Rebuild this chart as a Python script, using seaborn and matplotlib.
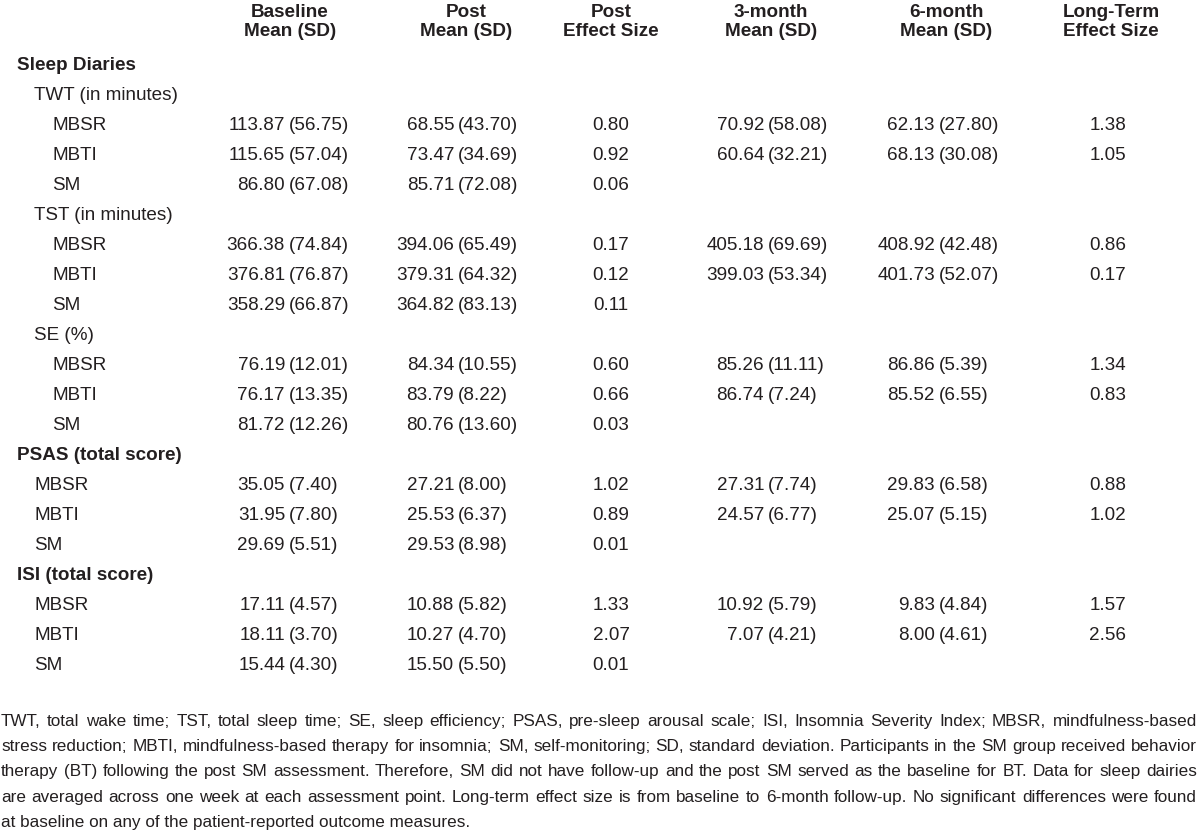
import numpy as np
import pandas as pd
import matplotlib
matplotlib.use("Agg")
import matplotlib.pyplot as plt
import seaborn as sns

# ---------- Data ----------
measures = ["TWT (in minutes)", "TST (in minutes)", "SE (%)",
            "PSAS (total score)", "ISI (total score)"]
measure_section = ["Sleep Diaries", "Sleep Diaries", "Sleep Diaries", None, None]
groups = ["MBSR", "MBTI", "SM"]

baseline_mean = [113.87, 115.65, 86.80, 366.38, 376.81, 358.29, 76.19, 76.17, 81.72,
                 35.05, 31.95, 29.69, 17.11, 18.11, 15.44]
baseline_sd = [56.75, 57.04, 67.08, 74.84, 76.87, 66.87, 12.01, 13.35, 12.26,
               7.40, 7.80, 5.51, 4.57, 3.70, 4.30]
post_mean = [68.55, 73.47, 85.71, 394.06, 379.31, 364.82, 84.34, 83.79, 80.76,
             27.21, 25.53, 29.53, 10.88, 10.27, 15.50]
post_sd = [43.70, 34.69, 72.08, 65.49, 64.32, 83.13, 10.55, 8.22, 13.60,
           8.00, 6.37, 8.98, 5.82, 4.70, 5.50]
post_es = [0.80, 0.92, 0.06, 0.17, 0.12, 0.11, 0.60, 0.66, 0.03,
           1.02, 0.89, 0.01, 1.33, 2.07, 0.01]
m3_mean = [70.92, 60.64, None, 405.18, 399.03, None, 85.26, 86.74, None,
           27.31, 24.57, None, 10.92, 7.07, None]
m3_sd = [58.08, 32.21, None, 69.69, 53.34, None, 11.11, 7.24, None,
         7.74, 6.77, None, 5.79, 4.21, None]
m6_mean = [62.13, 68.13, None, 408.92, 401.73, None, 86.86, 85.52, None,
           29.83, 25.07, None, 9.83, 8.00, None]
m6_sd = [27.80, 30.08, None, 42.48, 52.07, None, 5.39, 6.55, None,
         6.58, 5.15, None, 4.84, 4.61, None]
lt_es = [1.38, 1.05, None, 0.86, 0.17, None, 1.34, 0.83, None,
         0.88, 1.02, None, 1.57, 2.56, None]

headers = [("Baseline", "Mean (SD)"), ("Post", "Mean (SD)"), ("Post", "Effect Size"),
           ("3-month", "Mean (SD)"), ("6-month", "Mean (SD)"), ("Long-Term", "Effect Size")]

footnote = [
    "TWT, total wake time; TST, total sleep time; SE, sleep efficiency; PSAS, pre-sleep arousal scale; ISI, Insomnia Severity Index; MBSR, mindfulness-based",
    "stress reduction; MBTI, mindfulness-based therapy for insomnia; SM, self-monitoring; SD, standard deviation. Participants in the SM group received behavior",
    "therapy (BT) following the post SM assessment. Therefore, SM did not have follow-up and the post SM served as the baseline for BT. Data for sleep dairies",
    "are averaged across one week at each assessment point. Long-term effect size is from baseline to 6-month follow-up. No significant differences were found",
    "at baseline on any of the patient-reported outcome measures.",
]

# ---------- Layout ----------
sns.set_theme(style="white")
plt.rcParams["font.family"] = ["Liberation Sans", "DejaVu Sans"]
FS = 13.6
INK = "#231f20"
BL = 5  # baseline offset below the visual row centre

# header centers and "(" anchor positions for Mean (SD) columns
header_x = [290, 466, 611, 771, 946, 1111]
paren_x = {"base": 289, "post": 458, "m3": 768, "m6": 939}
es_x = {"post": 611, "lt": 1108}

fig = plt.figure(figsize=(12, 8.4), dpi=100)
ax = fig.add_axes([0, 0, 1, 1])
ax.set_xlim(0, 1200)
ax.set_ylim(840, 0)
ax.axis("off")


def put(x, y, s, ha="left", bold=False, fs=FS):
    return ax.text(x, round(y + BL), s, ha=ha, va="baseline", fontsize=fs,
                   fontweight="bold" if bold else "normal", color=INK)


for x, (l1, l2) in zip(header_x, headers):
    put(x, 12, l1, ha="center", bold=True)
    put(x, 31, l2, ha="center", bold=True)


def mean_sd(x, y, m, s):
    if m is None:
        return
    put(x - 4, y, f"{m:.2f}", ha="right")
    put(x, y, f"({s:.2f})")


row = 0
y0, dy = 65, 30
last_section = None
k = 0
for mi, meas in enumerate(measures):
    sec = measure_section[mi]
    if sec is not None:
        if sec != last_section:
            put(17, y0 + row * dy, sec, bold=True)
            row += 1
        put(34, y0 + row * dy, meas)
        gx = 52
    else:
        put(17, y0 + row * dy, meas, bold=True)
        gx = 34
    last_section = sec
    row += 1
    for g in groups:
        y = y0 + row * dy
        put(gx, y, g)
        mean_sd(paren_x["base"], y, baseline_mean[k], baseline_sd[k])
        mean_sd(paren_x["post"], y, post_mean[k], post_sd[k])
        put(es_x["post"], y, f"{post_es[k]:.2f}", ha="center")
        mean_sd(paren_x["m3"], y, m3_mean[k], m3_sd[k])
        mean_sd(paren_x["m6"], y, m6_mean[k], m6_sd[k])
        if lt_es[k] is not None:
            put(es_x["lt"], y, f"{lt_es[k]:.2f}", ha="center")
        row += 1
        k += 1

# ---------- Footnote, justified to the full width ----------
renderer = fig.canvas.get_renderer()
left, right = 1, 1197
# pick the largest size at which every full line fits with normal spacing
probe = ax.text(0, 0, "", fontsize=12)
widest = 0
for line in footnote[:-1]:
    probe.set_text(line)
    widest = max(widest, probe.get_window_extent(renderer).width)
probe.remove()
FOOT_FS = 12 * (right - left - 4) / widest

for i, line in enumerate(footnote):
    y = 721 + i * 25.2
    if i == len(footnote) - 1:
        put(left, y, line, fs=FOOT_FS)
        continue
    words = line.split(" ")
    texts = [put(0, y, w, fs=FOOT_FS) for w in words]
    widths = [t.get_window_extent(renderer).width for t in texts]
    gap = (right - left - sum(widths)) / (len(words) - 1)
    x = left
    for t, w in zip(texts, widths):
        t.set_x(x)
        x += w + gap

fig.savefig("out.png", dpi=100, facecolor="white")
